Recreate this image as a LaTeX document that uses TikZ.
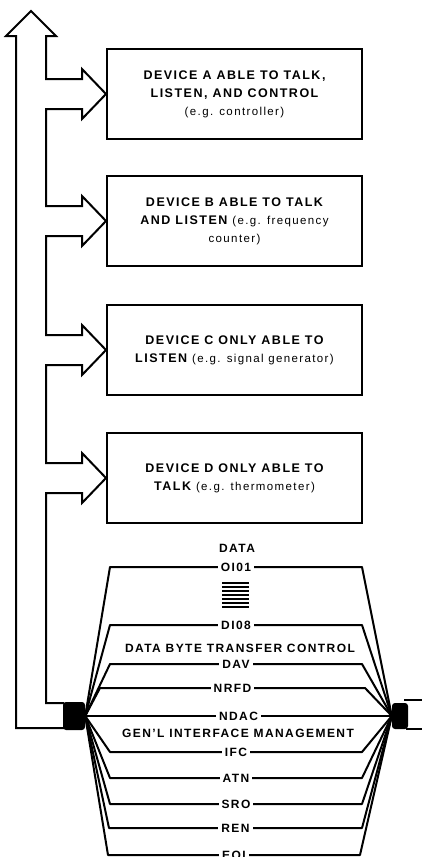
\documentclass[tikz,border=0pt]{standalone}
\usepackage{fontspec}
\setmainfont{Liberation Sans}[LetterSpace=12]
\usetikzlibrary{positioning,calc}

\begin{document}
\begin{tikzpicture}[
    x=1pt, y=-1pt,
    device/.style={rectangle, draw, line width=2pt, minimum width=255pt, minimum height=90pt, align=center, font=\fontsize{12.5}{18}\selectfont\bfseries},
    bus/.style={line width=2pt, line join=miter},
    wire/.style={line width=2pt, line join=round},
    plug/.style={rectangle, fill=black, rounded corners=3pt, inner sep=0pt},
    sig/.style={fill=white, inner xsep=3pt, inner ysep=1pt, font=\fontsize{12}{13}\selectfont\bfseries},
    group/.style={inner sep=1pt, font=\fontsize{12}{13}\selectfont\bfseries}
]
\useasboundingbox (0,0) rectangle (422,857);
\clip (0,0) rectangle (422,857);

% Devices on the bus
\node[device] (devA) at (234.5,94) {DEVICE A ABLE TO TALK,\\LISTEN, AND CONTROL\\{\mdseries\fontsize{11.5}{18}\selectfont (e.g. controller)}};
\node[device] (devB) at (234.5,221) {DEVICE B ABLE TO TALK\\AND LISTEN {\mdseries\fontsize{11.5}{18}\selectfont (e.g. frequency}\\{\mdseries\fontsize{11.5}{18}\selectfont counter)}};
\node[device] (devC) at (234.5,350) {DEVICE C ONLY ABLE TO\\LISTEN {\mdseries\fontsize{11.5}{18}\selectfont (e.g. signal generator)}};
\node[device] (devD) at (234.5,478) {DEVICE D ONLY ABLE TO\\TALK {\mdseries\fontsize{11.5}{18}\selectfont (e.g. thermometer)}};

% Cable plugs
\node[plug, minimum width=22pt, minimum height=28pt] (lconn) at (74,716) {};
\node[plug, minimum width=16pt, minimum height=26pt] (rconn) at (400,716) {};

% Hollow bus arrow with branches into the devices
\draw[bus] (64,728) -- (16,728) -- (16,36) -- (6,36) -- (31,11) -- (56,36) -- (46,36)
    -- (46,79) -- (82,79) -- (82,69) -- (devA.west) -- (82,119) -- (82,109) -- (46,109)
    -- (46,206) -- (82,206) -- (82,196) -- (devB.west) -- (82,246) -- (82,236) -- (46,236)
    -- (46,335) -- (82,335) -- (82,325) -- (devC.west) -- (82,375) -- (82,365) -- (46,365)
    -- (46,463) -- (82,463) -- (82,453) -- (devD.west) -- (82,503) -- (82,493) -- (46,493)
    -- (46,703) -- (64,703);
\draw[bus] (404,700) -- (430,700) (406,729) -- (430,729);

% Data lines
\node[group] (data) at (237,548) {DATA};
\draw[wire] (lconn.east) -- (110,567) -- node[sig] (dio1) {OI01} (362,567) -- (rconn.west);
\draw[line width=2.4pt] (222,583) -- (249,583) (222,587) -- (249,587) (222,591) -- (249,591)
    (222,595) -- (249,595) (222,599) -- (249,599) (222,603) -- (249,603) (222,607) -- (249,607);
\draw[wire] (lconn.east) -- (110,625) -- node[sig] (dio8) {DI08} (362,625) -- (rconn.west);

% Data byte transfer control
\node[group] (hshake) at (240,648) {DATA BYTE TRANSFER CONTROL};
\draw[wire] (lconn.east) -- (110,664) -- node[sig] (dav) {DAV} (362,664) -- (rconn.west);
\draw[wire] (lconn.east) -- (100,688) -- node[sig] (nrfd) {NRFD} (365,688) -- (rconn.west);
\draw[wire] (lconn.east) -- node[sig] (ndac) {NDAC} (rconn.west);

% General interface management
\node[group] (mgmt) at (238,733) {GEN'L INTERFACE MANAGEMENT};
\draw[wire] (lconn.east) -- (110,752) -- node[sig] (ifc) {IFC} (362,752) -- (rconn.west);
\draw[wire] (lconn.east) -- (110,778) -- node[sig] (atn) {ATN} (362,778) -- (rconn.west);
\draw[wire] (lconn.east) -- (110,804) -- node[sig] (sro) {SRO} (362,804) -- (rconn.west);
\draw[wire] (lconn.east) -- (109,828) -- node[sig] (ren) {REN} (362,828) -- (rconn.west);
\draw[wire] (lconn.east) -- (108,855) -- node[sig] (eoi) {EOI} (360,855) -- (rconn.west);

\end{tikzpicture}
\end{document}
